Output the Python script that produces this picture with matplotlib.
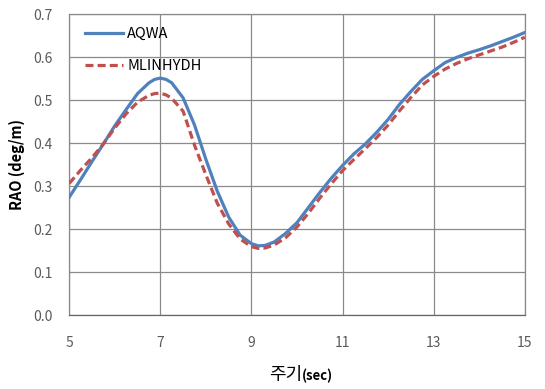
import matplotlib.pyplot as plt

plt.rcParams['font.family'] = ['Noto Sans CJK KR', 'DejaVu Sans']

# 주기 (sec)
period = [5.0, 5.25, 5.5, 5.75, 6.0, 6.25, 6.5, 6.75, 6.875, 7.0, 7.125, 7.25,
          7.5, 7.75, 8.0, 8.25, 8.5, 8.75, 9.0, 9.15, 9.3, 9.5, 9.75, 10.0,
          10.25, 10.5, 10.75, 11.0, 11.25, 11.5, 11.75, 12.0, 12.25, 12.5,
          12.75, 13.0, 13.25, 13.5, 13.75, 14.0, 14.25, 14.5, 14.75, 15.0]
# RAO (deg/m)
aqwa = [0.274, 0.315, 0.357, 0.398, 0.440, 0.478, 0.515, 0.540, 0.548, 0.551,
        0.548, 0.540, 0.505, 0.442, 0.362, 0.288, 0.228, 0.186, 0.166, 0.161,
        0.162, 0.170, 0.190, 0.215, 0.250, 0.285, 0.318, 0.348, 0.375, 0.398,
        0.425, 0.455, 0.490, 0.520, 0.548, 0.568, 0.587, 0.599, 0.609, 0.617,
        0.626, 0.636, 0.646, 0.657]
mlinhydh = [0.306, 0.337, 0.366, 0.398, 0.435, 0.468, 0.495, 0.511, 0.515, 0.516,
            0.512, 0.504, 0.474, 0.395, 0.326, 0.260, 0.212, 0.177, 0.159, 0.155,
            0.156, 0.163, 0.180, 0.205, 0.237, 0.272, 0.305, 0.336, 0.362, 0.387,
            0.413, 0.442, 0.475, 0.506, 0.535, 0.555, 0.572, 0.585, 0.596, 0.605,
            0.614, 0.623, 0.634, 0.646]

x_ticks = [5, 7, 9, 11, 13, 15]
y_ticks = [0.0, 0.1, 0.2, 0.3, 0.4, 0.5, 0.6, 0.7]

fig = plt.figure(figsize=(5.45, 3.89), dpi=100)
ax = fig.add_axes([0.127, 0.190, 0.836, 0.774])

ax.plot(period, aqwa, color='#4F81BD', lw=2.3, label='AQWA', zorder=3)
ax.plot(period, mlinhydh, color='#C0504D', lw=2.3, ls=(0, (2.5, 1.3)),
        label='MLINHYDH', zorder=4)

ax.set_xlim(5, 15)
ax.set_ylim(0, 0.7)
ax.set_xticks(x_ticks)
ax.set_yticks(y_ticks)
ax.set_yticklabels([f'{v:.1f}' for v in y_ticks])
ax.grid(True, color='#8a8a8a', lw=0.9)
ax.tick_params(length=0, labelsize=10, colors='#5a5a5a')
ax.tick_params(axis='y', pad=12)
ax.tick_params(axis='x', pad=15)
for s in ax.spines.values():
    s.set_color('#8a8a8a')
    s.set_linewidth(0.9)
ax.spines['bottom'].set_color('#666666')

ax.set_ylabel('RAO (deg/m)', fontsize=10.5, fontweight='bold')
ax.yaxis.set_label_coords(-0.098, 0.5)
fig.text(0.554, 0.022, '주기', fontsize=13, ha='right', va='baseline')
fig.text(0.554, 0.022, '(sec)', fontsize=9.5, fontweight='bold', ha='left', va='baseline')

ax.legend(loc='upper left', bbox_to_anchor=(0.022, 0.977), frameon=False,
          fontsize=10.5, handlelength=2.6, handletextpad=0.3, labelspacing=1.26,
          borderaxespad=0)

fig.savefig('out.png', dpi=100)
